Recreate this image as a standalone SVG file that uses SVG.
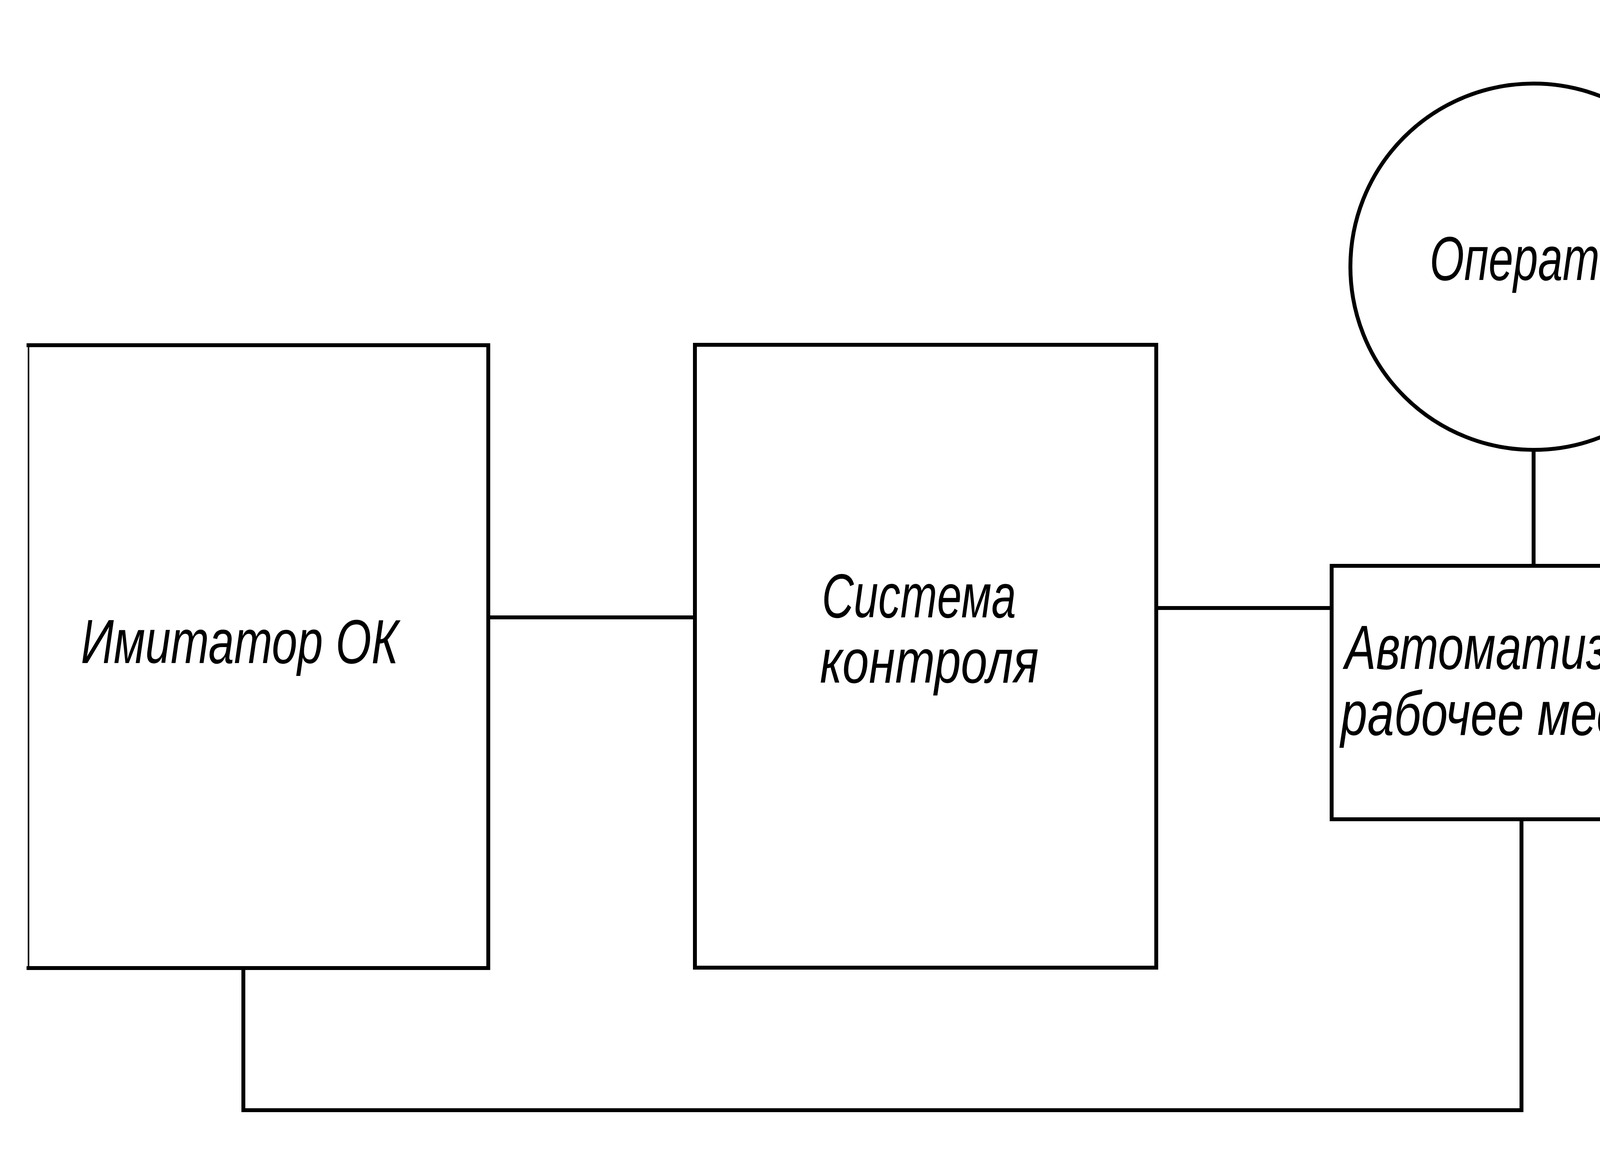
<svg xmlns="http://www.w3.org/2000/svg" width="4880" height="2968" viewBox="0 0 4880 2968">
<style>
.ln{fill:none;stroke:#000;stroke-width:10;stroke-linecap:square;stroke-linejoin:miter}
.thin{fill:none;stroke:#000;stroke-width:4}
.lbl{font-family:"Liberation Sans","DejaVu Sans",sans-serif;font-style:italic;font-size:160px;fill:#000}
</style>
<rect width="4880" height="2968" fill="#fff"/>
<g id="connectors">
<line class="ln" x1="1250" y1="1581" x2="1779" y2="1581"/>
<line class="ln" x1="2960" y1="1557" x2="3409" y2="1557"/>
<line class="ln" x1="3926" y1="1152" x2="3926" y2="1449"/>
<polyline class="ln" points="623,2479 623,2843 3895,2843 3895,2098"/>
</g>
<g id="imitator">
<polyline class="ln" points="73,884 1250,884 1250,2479 73,2479"/>
<line class="thin" x1="73" y1="884" x2="73" y2="2479"/>
<text class="lbl" x="207" y="1698" textLength="813" lengthAdjust="spacingAndGlyphs">Имитатор ОК</text>
</g>
<g id="sistema">
<rect class="ln" x="1779" y="883" width="1181" height="1595"/>
<text class="lbl" x="2104" y="1581" textLength="497" lengthAdjust="spacingAndGlyphs">Система</text>
<text class="lbl" x="2099" y="1748" textLength="560" lengthAdjust="spacingAndGlyphs">контроля</text>
</g>
<g id="operator">
<circle class="ln" cx="3926" cy="683" r="469"/>
<text class="lbl" x="3660" y="717" textLength="560" lengthAdjust="spacingAndGlyphs">Оператор</text>
</g>
<g id="arm">
<rect class="ln" x="3409" y="1449" width="1367" height="649"/>
<text class="lbl" x="3443" y="1713" textLength="1261" lengthAdjust="spacingAndGlyphs">Автоматизированное</text>
<text class="lbl" x="3432" y="1882" textLength="886" lengthAdjust="spacingAndGlyphs">рабочее место</text>
</g>
</svg>
